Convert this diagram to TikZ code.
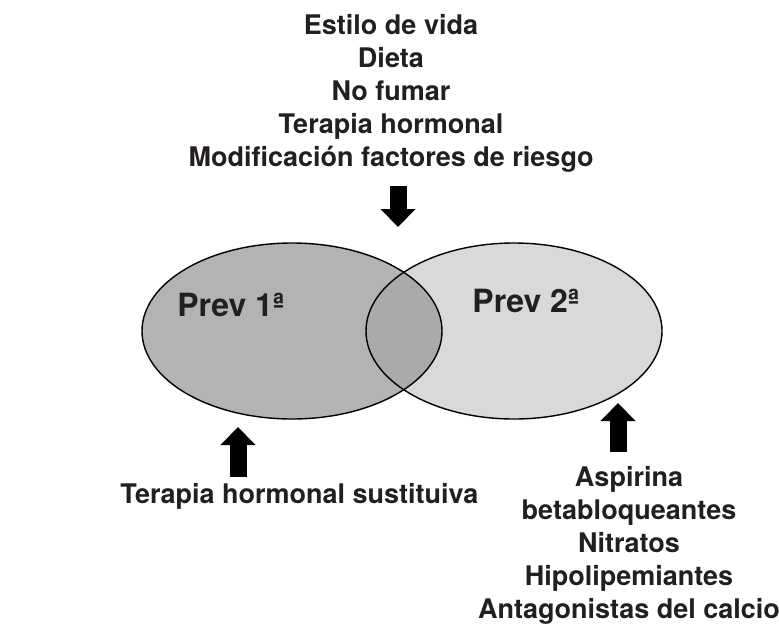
\documentclass[tikz,border=0pt]{standalone}
\usepackage{fontspec}
\setmainfont{TeX Gyre Heros}
\usetikzlibrary{positioning, arrows.meta}
\definecolor{fillLeft}{HTML}{B3B3B3}
\definecolor{fillRight}{HTML}{D9D9D9}
\definecolor{fillBoth}{HTML}{AAAAAA}
\definecolor{textMain}{HTML}{231F20}
\tikzset{
  listtext/.style={
    align=center, inner sep=0pt, text=textMain,
    font=\fontsize{13.5}{16.5}\selectfont\bfseries,
  },
  prevtext/.style={
    inner sep=0pt, anchor=base west, text=textMain,
    font=\fontsize{16}{19}\selectfont\bfseries,
  },
  setline/.style={draw=black, line width=0.7pt},
  bigarrow/.style={
    -{Triangle[width=17pt, length=9pt]}, line width=8.5pt, color=black,
  },
}

\begin{document}
\begin{tikzpicture}[x=0.5pt, y=-0.5pt]
  \useasboundingbox (0,0) rectangle (779,627);

  % === Sets ===
  \coordinate (cPrim) at (292,331);
  \coordinate (cSec) at (514,331);
  \fill[fillLeft] (cPrim) ellipse [x radius=75pt, y radius=44pt];
  \fill[fillRight] (cSec) ellipse [x radius=74pt, y radius=44pt];
  \begin{scope}
    \clip (cPrim) ellipse [x radius=75pt, y radius=44pt];
    \fill[fillBoth] (cSec) ellipse [x radius=74pt, y radius=44pt];
  \end{scope}
  \draw[setline] (cPrim) ellipse [x radius=75pt, y radius=44pt];
  \draw[setline] (cSec) ellipse [x radius=74pt, y radius=44pt];

  \node[prevtext] (prevPrim) at (177,316) {Prev 1ª};
  \node[prevtext] (prevSec) at (472,312) {Prev 2ª};

  % === Both: top list ===
  \node[listtext, anchor=north] (both) at (391,14)
    {Estilo de vida\\Dieta\\No fumar\\Terapia hormonal\\Modificación factores de riesgo};
  \coordinate (bothTail) at (398,186);
  \coordinate (bothTip) at (398,227);
  \draw[bigarrow] (bothTail) -- (bothTip);

  % === Primary: bottom left ===
  \node[listtext, anchor=base west] (prim) at (120,503) {Terapia hormonal sustituiva};
  \coordinate (primTail) at (238,477);
  \coordinate (primTip) at (238,427);
  \draw[bigarrow] (primTail) -- (primTip);

  % === Secondary: bottom right ===
  \node[listtext, anchor=north] (sec) at (629,466)
    {Aspirina\\betabloqueantes\\Nitratos\\Hipolipemiantes\\Antagonistas del calcio};
  \coordinate (secTail) at (618,452);
  \coordinate (secTip) at (618,403);
  \draw[bigarrow] (secTail) -- (secTip);

\end{tikzpicture}
\end{document}
